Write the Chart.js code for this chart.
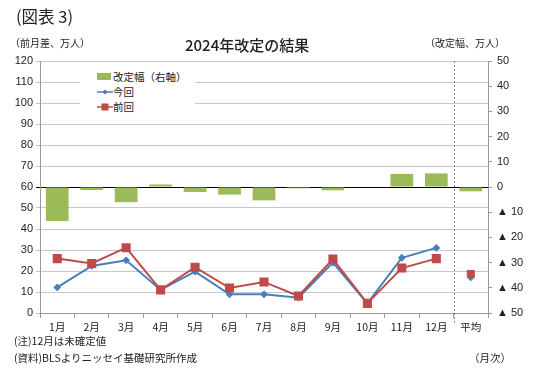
<!DOCTYPE html>
<html><head><meta charset="utf-8">
<script src="https://cdn.jsdelivr.net/npm/chart.js@4"></script>
<style>
html,body{margin:0;padding:0;background:#fff;}
#wrap{position:relative;width:540px;height:385px;font-family:"Noto Sans CJK JP","Noto Sans",sans-serif;color:#222;}
canvas{position:absolute;left:0;top:0;}
.t{position:absolute;white-space:nowrap;}
#legend{position:absolute;left:80px;top:68px;width:115px;height:46px;background:#fff;font-size:10.5px;}
.li{position:absolute;left:15px;height:14px;line-height:14px;}
.sw{position:absolute;left:-16px;top:3px;}
</style></head>
<body><div id="wrap">
<canvas id="c" width="540" height="385"></canvas>
<div class="t" style="left:16px;top:4px;font-size:16.5px;">(図表 3)</div>
<div class="t" style="left:10px;top:35px;font-size:10px;">（前月差、万人）</div>
<div class="t" style="left:185px;top:34px;font-size:15px;font-weight:500;">2024年改定の結果</div>
<div class="t" style="left:425px;top:35px;font-size:10px;">（改定幅、万人）</div>
<div id="legend">
 <div class="li" style="top:2px;left:33px;"><span class="sw" style="width:14px;height:7px;background:#9bbb59;"></span>改定幅（右軸）</div>
 <div class="li" style="top:17px;left:33px;"><svg class="sw" width="16" height="8" style="top:3px"><line x1="0" y1="4" x2="16" y2="4" stroke="#4a7ebb" stroke-width="1.5"/><polygon points="8,1.5 10.5,4 8,6.5 5.5,4" fill="#4a7ebb"/></svg>今回</div>
 <div class="li" style="top:32px;left:33px;"><svg class="sw" width="16" height="8" style="top:3px"><line x1="0" y1="4" x2="16" y2="4" stroke="#be4b48" stroke-width="1.5"/><rect x="4.5" y="0.5" width="7" height="7" fill="#be4b48"/></svg>前回</div>
</div>
<div class="t" style="left:14px;top:333px;font-size:10.5px;">(注)12月は未確定値</div>
<div class="t" style="left:14px;top:350px;font-size:10.5px;">(資料)BLSよりニッセイ基礎研究所作成</div>
<div class="t" style="left:469px;top:350px;font-size:10.5px;">（月次）</div>
</div>
<script>
const categories = ['1月','2月','3月','4月','5月','6月','7月','8月','9月','10月','11月','12月','平均'];
const revision = [-13.5,-1.2,-6,1,-2,-3,-5.3,-0.5,-1.3,0,5.2,5.4,-1.7];
const current = [12.2,22.4,25.1,11,19.7,8.9,8.9,7.3,24,4.6,26.3,31];
const currentAvg = 16.5;
const previous = [25.9,23.6,31.1,11,21.8,11.9,14.8,8.1,25.7,4.6,21.4,25.9];
const previousAvg = 18.6;
const leftTicks = [0,10,20,30,40,50,60,70,80,90,100,110,120];
const rightTicks = [-50,-40,-30,-20,-10,0,10,20,30,40,50];

const monthsOnly = arr => arr.concat([null]);
const avgOnly = v => categories.map((c,i)=> i===categories.length-1 ? v : null);

const BLUE='#4a7ebb', RED='#be4b48', GREEN='#9bbb59';
const sepPlugin = {
  id:'sep',
  afterDatasetsDraw(chart){
    const {ctx, chartArea, scales} = chart;
    const x = (scales.x.getPixelForValue(11)+scales.x.getPixelForValue(12))/2;
    ctx.save();
    ctx.strokeStyle='#888'; ctx.lineWidth=1; ctx.setLineDash([2,2]);
    ctx.beginPath(); ctx.moveTo(Math.round(x)+0.5, chartArea.top); ctx.lineTo(Math.round(x)+0.5, chartArea.bottom+10); ctx.stroke();
    ctx.restore();
  }
};
new Chart(document.getElementById('c'), {
  data:{
    labels: categories,
    datasets:[
      {type:'line', label:'今回', data: monthsOnly(current), yAxisID:'y', borderColor:BLUE, backgroundColor:BLUE, borderWidth:2, pointStyle:'rectRot', pointRadius:2.5, tension:0, order:1},
      {type:'line', label:'前回', data: monthsOnly(previous), yAxisID:'y', borderColor:RED, backgroundColor:RED, borderWidth:2, pointStyle:'rect', pointRadius:5, tension:0, order:0},
      {type:'line', label:'今回平均', data: avgOnly(currentAvg), yAxisID:'y', borderColor:BLUE, backgroundColor:BLUE, showLine:false, pointStyle:'rectRot', pointRadius:2.5, order:1},
      {type:'line', label:'前回平均', data: avgOnly(previousAvg), yAxisID:'y', borderColor:RED, backgroundColor:RED, showLine:false, pointStyle:'rect', pointRadius:5, order:0},
      {type:'bar', label:'改定幅（右軸）', data: revision, yAxisID:'y1', backgroundColor:GREEN, barPercentage:0.66, categoryPercentage:1, order:5}
    ]
  },
  options:{
    responsive:false, animation:false,
    layout:{padding:{top:61,left:0,right:0,bottom:0}},
    plugins:{legend:{display:false}, title:{display:false}, tooltip:{enabled:false}},
    scales:{
      x:{
        offset:true,
        afterFit(s){ s.height = 72; },
        grid:{offset:true, drawOnChartArea:false, drawTicks:true, tickLength:5, color:'#999'},
        border:{color:'#999'},
        ticks:{padding:3, color:'#222', font:{family:'"Noto Sans CJK JP"', size:10.5}, maxRotation:0, autoSkip:false}
      },
      y:{
        position:'left', min:0, max:120,
        afterFit(s){ s.width = 40; },
        afterBuildTicks(s){ s.ticks = leftTicks.map(v=>({value:v})); },
        grid:{color:ctx=> ctx.tick && ctx.tick.value===60 ? '#000' : '#c8c8c8', lineWidth:1, tickLength:4, drawTicks:true},
        border:{color:'#999'},
        ticks:{padding:3, color:'#222', font:{family:'Arial, "Liberation Sans"', size:11}}
      },
      y1:{
        position:'right', min:-50, max:50,
        afterFit(s){ s.width = 52; },
        afterBuildTicks(s){ s.ticks = rightTicks.map(v=>({value:v})); },
        grid:{drawOnChartArea:false, tickLength:4, color:'#999'},
        border:{color:'#999'},
        ticks:{padding:5, color:'#222', font:{family:'Arial, "Liberation Sans"', size:11}, callback:v=> v<0 ? '▲ '+(-v) : String(v)}
      }
    }
  },
  plugins:[sepPlugin]
});
</script>
</body></html>
